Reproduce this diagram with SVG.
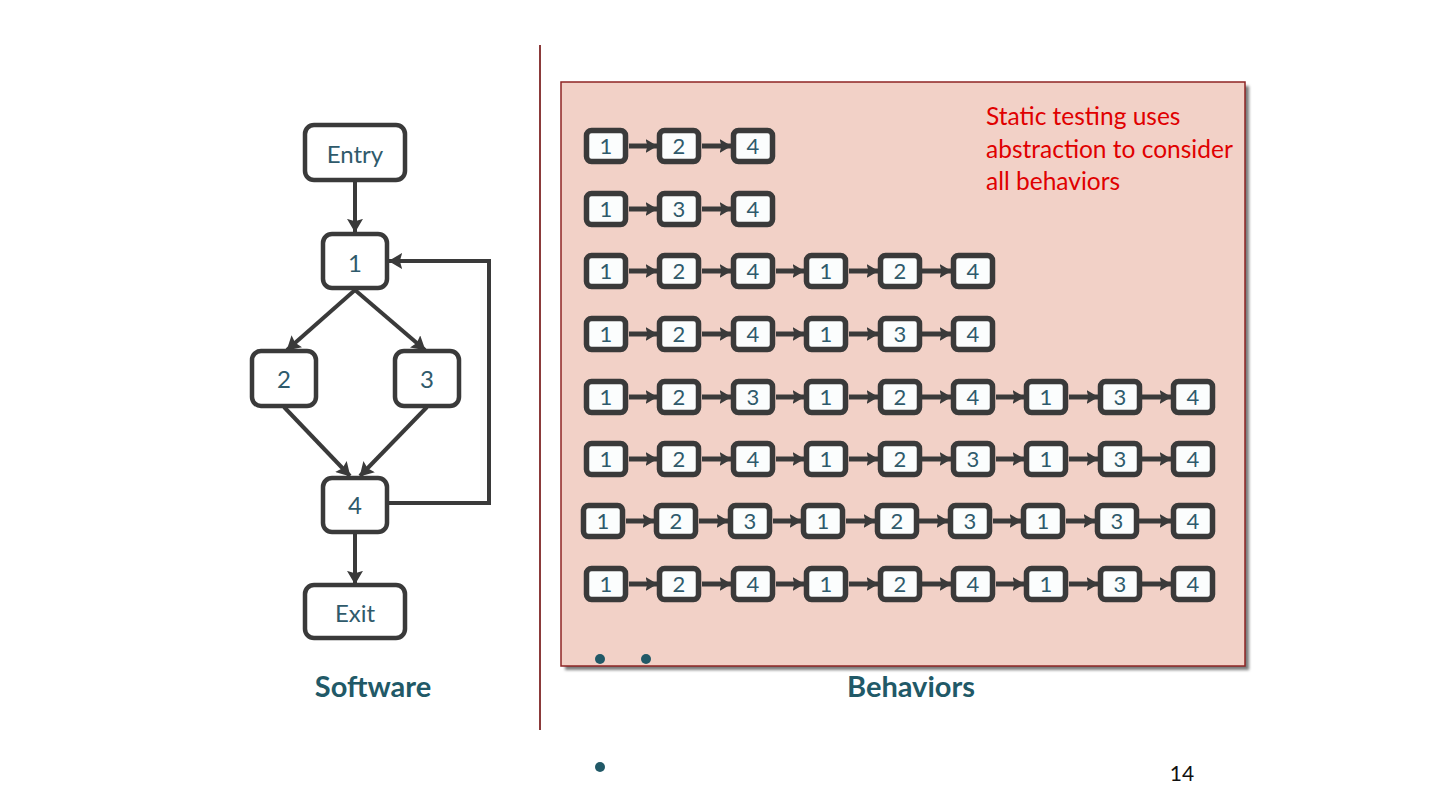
<svg xmlns="http://www.w3.org/2000/svg" width="1440" height="811" viewBox="0 0 1440 811">
<defs>
<marker id="ah" markerUnits="userSpaceOnUse" markerWidth="14" markerHeight="16" viewBox="0 0 12 14" refX="11.5" refY="7" orient="auto">
<path d="M0,0 L12,7 L0,14 L2,7 z" fill="#3a3a3a"/>
</marker>
<marker id="ahs" markerUnits="userSpaceOnUse" markerWidth="12" markerHeight="14" viewBox="0 0 12 14" refX="11.5" refY="7" orient="auto">
<path d="M0,0 L12,7 L0,14 L2,7 z" fill="#3a3a3a"/>
</marker>
<filter id="sh" x="-5%" y="-5%" width="110%" height="110%">
<feGaussianBlur stdDeviation="1.5"/>
</filter>
</defs>
<style>
.n{fill:#ffffff;stroke:#3a3a3a;stroke-width:4.5}
.s{fill:#fbfdfd;stroke:#3a3a3a;stroke-width:5.5}
.t{font-family:Lato,"Open Sans",sans-serif;font-size:24px;fill:#2f5a6b;text-anchor:middle}
.ts{font-family:Lato,"Open Sans",sans-serif;font-size:22px;fill:#2f5a6b;text-anchor:middle}
.c{fill:none;stroke:#3a3a3a;stroke-width:4;marker-end:url(#ah)}
.cs{fill:none;stroke:#3a3a3a;stroke-width:5;marker-end:url(#ahs)}
.lbl{font-family:Lato,"Open Sans",sans-serif;font-size:29px;font-weight:bold;fill:#215967;text-anchor:middle}
.red{font-family:Lato,"Open Sans",sans-serif;font-size:24.5px;fill:#e00000}
.dot{fill:#215967}
</style>
<rect width="1440" height="811" fill="#ffffff"/>
<line x1="540" y1="45" x2="540" y2="730" stroke="#8b3a3a" stroke-width="2"/>
<g id="behaviors-panel">
<rect x="565" y="86" width="684" height="584" fill="#7a7a7a" filter="url(#sh)"/>
<rect x="561" y="82" width="684" height="584" fill="#f2d1c7" stroke="#8e2525" stroke-width="1.5"/>
</g>
<g id="note">
<text class="red" x="986" y="125">Static testing uses</text>
<text class="red" x="986" y="158">abstraction to consider</text>
<text class="red" x="986" y="190">all behaviors</text>
</g>
<g id="connectors">
<path class="c" d="M355,182 L355,232"/>
<path class="c" d="M355,290 L287,350"/>
<path class="c" d="M355,290 L425,350"/>
<path class="c" d="M284,407 L350,476"/>
<path class="c" d="M427,407 L360,476"/>
<path class="c" d="M355,533 L355,584"/>
<path class="c" d="M389,503 L489,503 L489,261 L389,261"/>
</g>
<g id="node-entry"><rect class="n" x="305" y="125" width="100" height="55" rx="9"/><text class="t" x="355" y="163">Entry</text></g>
<g id="node-1"><rect class="n" x="323" y="234" width="64" height="54" rx="9"/><text class="t" x="355" y="272">1</text></g>
<g id="node-2"><rect class="n" x="252" y="351" width="64" height="55" rx="9"/><text class="t" x="284" y="388">2</text></g>
<g id="node-3"><rect class="n" x="395" y="351" width="64" height="55" rx="9"/><text class="t" x="427" y="388">3</text></g>
<g id="node-4"><rect class="n" x="323" y="478" width="64" height="54" rx="9"/><text class="t" x="355" y="514">4</text></g>
<g id="node-exit"><rect class="n" x="305" y="585" width="100" height="53" rx="9"/><text class="t" x="355" y="622">Exit</text></g>
<text class="lbl" x="373" y="697">Software</text>
<text class="lbl" x="911" y="697">Behaviors</text>
<g id="behavior-rows">
<g id="row1" transform="translate(0,146)">
<path class="cs" d="M629,0 L657,0"/><path class="cs" d="M702,0 L731,0"/>
<rect class="s" x="586.5" y="-15.5" width="39" height="31" rx="5"/><text class="ts" x="606" y="8">1</text>
<rect class="s" x="659.5" y="-15.5" width="39" height="31" rx="5"/><text class="ts" x="679" y="8">2</text>
<rect class="s" x="733.5" y="-15.5" width="39" height="31" rx="5"/><text class="ts" x="753" y="8">4</text>
</g>
<g id="row2" transform="translate(0,209)">
<path class="cs" d="M629,0 L657,0"/><path class="cs" d="M702,0 L731,0"/>
<rect class="s" x="586.5" y="-15.5" width="39" height="31" rx="5"/><text class="ts" x="606" y="8">1</text>
<rect class="s" x="659.5" y="-15.5" width="39" height="31" rx="5"/><text class="ts" x="679" y="8">3</text>
<rect class="s" x="733.5" y="-15.5" width="39" height="31" rx="5"/><text class="ts" x="753" y="8">4</text>
</g>
<g id="row3" transform="translate(0,271)">
<path class="cs" d="M629,0 L657,0"/><path class="cs" d="M702,0 L731,0"/><path class="cs" d="M776,0 L804,0"/><path class="cs" d="M849,0 L878,0"/><path class="cs" d="M922,0 L951,0"/>
<rect class="s" x="586.5" y="-15.5" width="39" height="31" rx="5"/><text class="ts" x="606" y="8">1</text>
<rect class="s" x="659.5" y="-15.5" width="39" height="31" rx="5"/><text class="ts" x="679" y="8">2</text>
<rect class="s" x="733.5" y="-15.5" width="39" height="31" rx="5"/><text class="ts" x="753" y="8">4</text>
<rect class="s" x="806.5" y="-15.5" width="39" height="31" rx="5"/><text class="ts" x="826" y="8">1</text>
<rect class="s" x="880.5" y="-15.5" width="39" height="31" rx="5"/><text class="ts" x="900" y="8">2</text>
<rect class="s" x="953.5" y="-15.5" width="39" height="31" rx="5"/><text class="ts" x="973" y="8">4</text>
</g>
<g id="row4" transform="translate(0,334)">
<path class="cs" d="M629,0 L657,0"/><path class="cs" d="M702,0 L731,0"/><path class="cs" d="M776,0 L804,0"/><path class="cs" d="M849,0 L878,0"/><path class="cs" d="M922,0 L951,0"/>
<rect class="s" x="586.5" y="-15.5" width="39" height="31" rx="5"/><text class="ts" x="606" y="8">1</text>
<rect class="s" x="659.5" y="-15.5" width="39" height="31" rx="5"/><text class="ts" x="679" y="8">2</text>
<rect class="s" x="733.5" y="-15.5" width="39" height="31" rx="5"/><text class="ts" x="753" y="8">4</text>
<rect class="s" x="806.5" y="-15.5" width="39" height="31" rx="5"/><text class="ts" x="826" y="8">1</text>
<rect class="s" x="880.5" y="-15.5" width="39" height="31" rx="5"/><text class="ts" x="900" y="8">3</text>
<rect class="s" x="953.5" y="-15.5" width="39" height="31" rx="5"/><text class="ts" x="973" y="8">4</text>
</g>
<g id="row5" transform="translate(0,397)">
<path class="cs" d="M629,0 L657,0"/><path class="cs" d="M702,0 L731,0"/><path class="cs" d="M776,0 L804,0"/><path class="cs" d="M849,0 L878,0"/><path class="cs" d="M922,0 L951,0"/><path class="cs" d="M996,0 L1024,0"/><path class="cs" d="M1069,0 L1098,0"/><path class="cs" d="M1142,0 L1171,0"/>
<rect class="s" x="586.5" y="-15.5" width="39" height="31" rx="5"/><text class="ts" x="606" y="8">1</text>
<rect class="s" x="659.5" y="-15.5" width="39" height="31" rx="5"/><text class="ts" x="679" y="8">2</text>
<rect class="s" x="733.5" y="-15.5" width="39" height="31" rx="5"/><text class="ts" x="753" y="8">3</text>
<rect class="s" x="806.5" y="-15.5" width="39" height="31" rx="5"/><text class="ts" x="826" y="8">1</text>
<rect class="s" x="880.5" y="-15.5" width="39" height="31" rx="5"/><text class="ts" x="900" y="8">2</text>
<rect class="s" x="953.5" y="-15.5" width="39" height="31" rx="5"/><text class="ts" x="973" y="8">4</text>
<rect class="s" x="1026.5" y="-15.5" width="39" height="31" rx="5"/><text class="ts" x="1046" y="8">1</text>
<rect class="s" x="1100.5" y="-15.5" width="39" height="31" rx="5"/><text class="ts" x="1120" y="8">3</text>
<rect class="s" x="1173.5" y="-15.5" width="39" height="31" rx="5"/><text class="ts" x="1193" y="8">4</text>
</g>
<g id="row6" transform="translate(0,459)">
<path class="cs" d="M629,0 L657,0"/><path class="cs" d="M702,0 L731,0"/><path class="cs" d="M776,0 L804,0"/><path class="cs" d="M849,0 L878,0"/><path class="cs" d="M922,0 L951,0"/><path class="cs" d="M996,0 L1024,0"/><path class="cs" d="M1069,0 L1098,0"/><path class="cs" d="M1142,0 L1171,0"/>
<rect class="s" x="586.5" y="-15.5" width="39" height="31" rx="5"/><text class="ts" x="606" y="8">1</text>
<rect class="s" x="659.5" y="-15.5" width="39" height="31" rx="5"/><text class="ts" x="679" y="8">2</text>
<rect class="s" x="733.5" y="-15.5" width="39" height="31" rx="5"/><text class="ts" x="753" y="8">4</text>
<rect class="s" x="806.5" y="-15.5" width="39" height="31" rx="5"/><text class="ts" x="826" y="8">1</text>
<rect class="s" x="880.5" y="-15.5" width="39" height="31" rx="5"/><text class="ts" x="900" y="8">2</text>
<rect class="s" x="953.5" y="-15.5" width="39" height="31" rx="5"/><text class="ts" x="973" y="8">3</text>
<rect class="s" x="1026.5" y="-15.5" width="39" height="31" rx="5"/><text class="ts" x="1046" y="8">1</text>
<rect class="s" x="1100.5" y="-15.5" width="39" height="31" rx="5"/><text class="ts" x="1120" y="8">3</text>
<rect class="s" x="1173.5" y="-15.5" width="39" height="31" rx="5"/><text class="ts" x="1193" y="8">4</text>
</g>
<g id="row7" transform="translate(-3,521)">
<path class="cs" d="M629,0 L657,0"/><path class="cs" d="M702,0 L731,0"/><path class="cs" d="M776,0 L804,0"/><path class="cs" d="M849,0 L878,0"/><path class="cs" d="M922,0 L951,0"/><path class="cs" d="M996,0 L1024,0"/><path class="cs" d="M1069,0 L1098,0"/><path class="cs" d="M1142,0 L1174,0"/>
<rect class="s" x="586.5" y="-15.5" width="39" height="31" rx="5"/><text class="ts" x="606" y="8">1</text>
<rect class="s" x="659.5" y="-15.5" width="39" height="31" rx="5"/><text class="ts" x="679" y="8">2</text>
<rect class="s" x="733.5" y="-15.5" width="39" height="31" rx="5"/><text class="ts" x="753" y="8">3</text>
<rect class="s" x="806.5" y="-15.5" width="39" height="31" rx="5"/><text class="ts" x="826" y="8">1</text>
<rect class="s" x="880.5" y="-15.5" width="39" height="31" rx="5"/><text class="ts" x="900" y="8">2</text>
<rect class="s" x="953.5" y="-15.5" width="39" height="31" rx="5"/><text class="ts" x="973" y="8">3</text>
<rect class="s" x="1026.5" y="-15.5" width="39" height="31" rx="5"/><text class="ts" x="1046" y="8">1</text>
<rect class="s" x="1100.5" y="-15.5" width="39" height="31" rx="5"/><text class="ts" x="1120" y="8">3</text>
<rect class="s" x="1176.5" y="-15.5" width="39" height="31" rx="5"/><text class="ts" x="1196" y="8">4</text>
</g>
<g id="row8" transform="translate(0,584)">
<path class="cs" d="M629,0 L657,0"/><path class="cs" d="M702,0 L731,0"/><path class="cs" d="M776,0 L804,0"/><path class="cs" d="M849,0 L878,0"/><path class="cs" d="M922,0 L951,0"/><path class="cs" d="M996,0 L1024,0"/><path class="cs" d="M1069,0 L1098,0"/><path class="cs" d="M1142,0 L1171,0"/>
<rect class="s" x="586.5" y="-15.5" width="39" height="31" rx="5"/><text class="ts" x="606" y="8">1</text>
<rect class="s" x="659.5" y="-15.5" width="39" height="31" rx="5"/><text class="ts" x="679" y="8">2</text>
<rect class="s" x="733.5" y="-15.5" width="39" height="31" rx="5"/><text class="ts" x="753" y="8">4</text>
<rect class="s" x="806.5" y="-15.5" width="39" height="31" rx="5"/><text class="ts" x="826" y="8">1</text>
<rect class="s" x="880.5" y="-15.5" width="39" height="31" rx="5"/><text class="ts" x="900" y="8">2</text>
<rect class="s" x="953.5" y="-15.5" width="39" height="31" rx="5"/><text class="ts" x="973" y="8">4</text>
<rect class="s" x="1026.5" y="-15.5" width="39" height="31" rx="5"/><text class="ts" x="1046" y="8">1</text>
<rect class="s" x="1100.5" y="-15.5" width="39" height="31" rx="5"/><text class="ts" x="1120" y="8">3</text>
<rect class="s" x="1173.5" y="-15.5" width="39" height="31" rx="5"/><text class="ts" x="1193" y="8">4</text>
</g>
</g>
<g id="dots">
<circle class="dot" cx="600" cy="659" r="5"/>
<circle class="dot" cx="646" cy="659" r="5"/>
<circle class="dot" cx="600" cy="767" r="5"/>
</g>
<text x="1182" y="781" font-family="Lato,'Open Sans',sans-serif" font-size="21" fill="#111111" text-anchor="middle">14</text>
</svg>
